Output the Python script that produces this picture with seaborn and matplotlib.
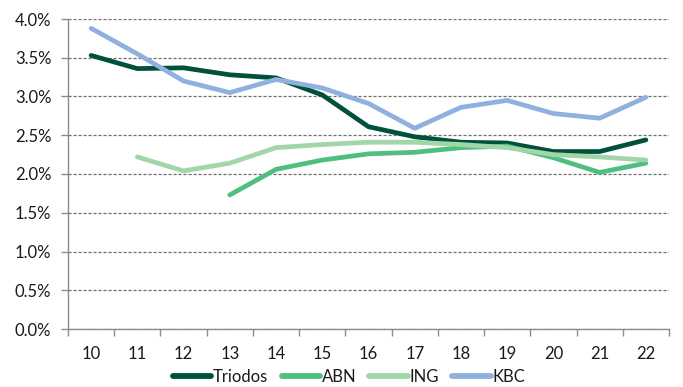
import matplotlib
matplotlib.use('Agg')
import matplotlib.pyplot as plt
import matplotlib.ticker as mticker
import seaborn as sns
import pandas as pd
import numpy as np

# Data (percent values)
years = ['10', '11', '12', '13', '14', '15', '16', '17', '18', '19', '20', '21', '22']
triodos = [3.53, 3.36, 3.37, 3.28, 3.24, 3.02, 2.61, 2.48, 2.41, 2.40, 2.29, 2.29, 2.44]
abn = [np.nan, np.nan, np.nan, 1.73, 2.06, 2.18, 2.26, 2.28, 2.34, 2.36, 2.21, 2.02, 2.14]
ing = [np.nan, 2.22, 2.04, 2.14, 2.34, 2.38, 2.41, 2.41, 2.38, 2.34, 2.25, 2.22, 2.18]
kbc = [3.88, 3.55, 3.20, 3.05, 3.22, 3.11, 2.91, 2.59, 2.86, 2.95, 2.78, 2.72, 2.99]

series = {'Triodos': triodos, 'ABN': abn, 'ING': ing, 'KBC': kbc}
colors = {'Triodos': '#00503c', 'ABN': '#4fbf80', 'ING': '#a1d6a9', 'KBC': '#8fb1e0'}

rows = []
for name, vals in series.items():
    for i, v in enumerate(vals):
        rows.append({'pos': i, 'year': years[i], 'bank': name, 'value': v / 100})
df = pd.DataFrame(rows)

sns.set_style('white')
plt.rcParams['font.family'] = ['Lato', 'DejaVu Sans']

fig = plt.figure(figsize=(6.83, 3.87), dpi=100)
ax = fig.add_axes([68 / 683, 1 - 329 / 387, (669 - 68) / 683, (329 - 19) / 387])

for name in series:
    d = df[df['bank'] == name]
    sns.lineplot(data=d, x='pos', y='value', ax=ax, color=colors[name], lw=3.4,
                 label=name, solid_capstyle='round', estimator=None)

ax.set_xlim(-0.5, len(years) - 0.5)
ax.set_ylim(0, 0.04)
ax.yaxis.set_major_locator(mticker.MultipleLocator(0.005))
ax.yaxis.set_major_formatter(mticker.PercentFormatter(1.0, decimals=1))
ax.yaxis.grid(True, color='#6f6f6f', linestyle=(0, (2.5, 1.5)), lw=0.9)
ax.set_axisbelow(True)

# category ticks at boundaries, labels at centres
ax.xaxis.set_major_locator(mticker.FixedLocator(np.arange(-0.5, len(years))))
ax.xaxis.set_major_formatter(mticker.NullFormatter())
ax.xaxis.set_minor_locator(mticker.FixedLocator(np.arange(len(years))))
ax.xaxis.set_minor_formatter(mticker.FixedFormatter(years))
ax.tick_params(axis='x', which='major', direction='out', length=5, color='#8c8c8c', width=1, bottom=True)
ax.tick_params(axis='x', which='minor', length=0, pad=12, labelsize=12, colors='#1a1a1a')
ax.tick_params(axis='y', direction='out', length=5, color='#8c8c8c', width=1, left=True,
               pad=7, labelsize=12, labelcolor='#1a1a1a')

for s in ['top', 'right']:
    ax.spines[s].set_visible(False)
for s in ['left', 'bottom']:
    ax.spines[s].set_color('#8c8c8c')
    ax.spines[s].set_linewidth(1)

ax.set_xlabel('')
ax.set_ylabel('')
leg = ax.legend(loc='center', bbox_to_anchor=(349 / 683, 10 / 387), bbox_transform=fig.transFigure,
                ncol=4, frameon=False, fontsize=12, handlelength=2.3, handletextpad=0.1,
                columnspacing=0.8, labelcolor='#1a1a1a')
for line in leg.get_lines():
    line.set_linewidth(4.2)

fig.savefig('out.png', dpi=100)
